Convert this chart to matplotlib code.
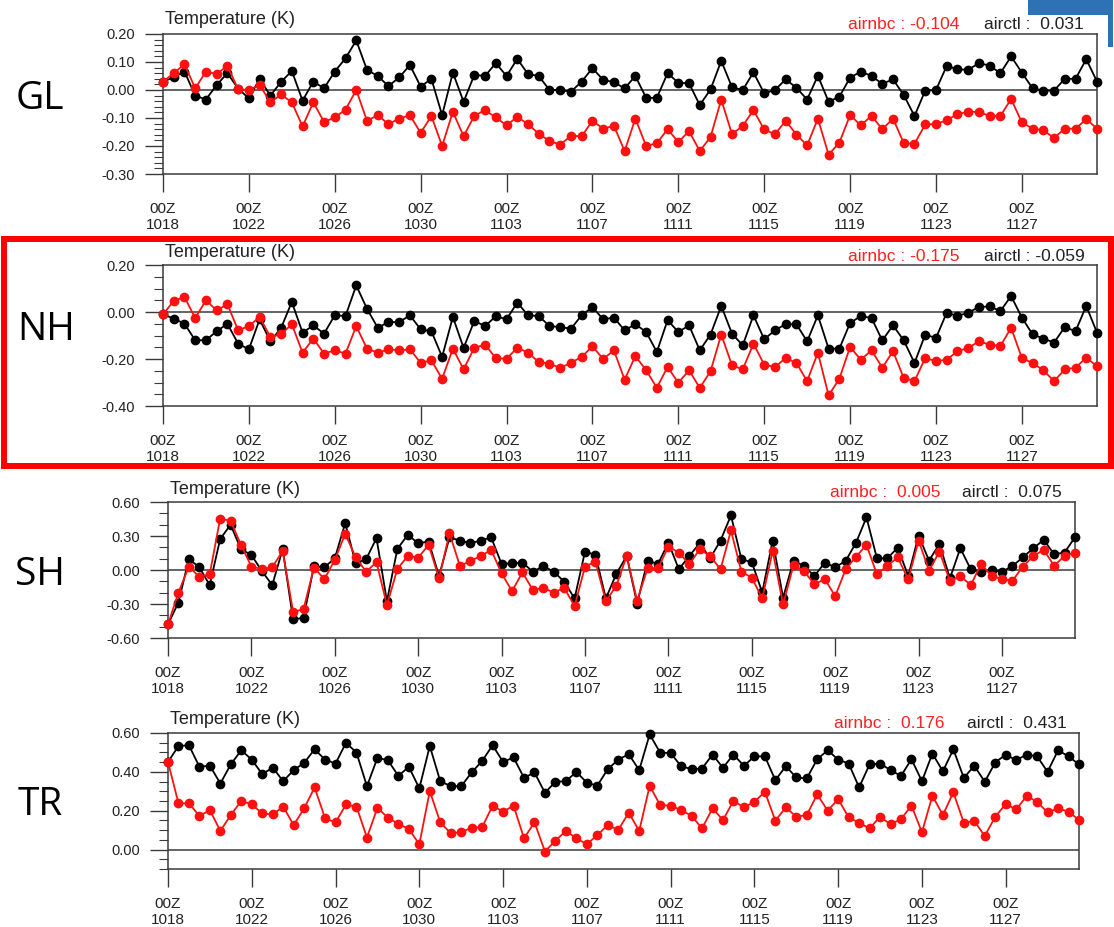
import matplotlib
matplotlib.use('Agg')
import matplotlib.pyplot as plt
from matplotlib.patches import Rectangle
from matplotlib.ticker import MultipleLocator, FormatStrFormatter

# 12-hourly samples, 00Z 10/18 .. 12Z 11/30
tick_labels = ['1018', '1022', '1026', '1030', '1103', '1107',
               '1111', '1115', '1119', '1123', '1127']

gl_ctl = [0.03, 0.045, 0.066, -0.02, -0.034, 0.018, 0.06, 0.005, -0.03, 0.04,
          -0.02, 0.029, 0.068, -0.038, 0.03, 0.006, 0.066, 0.113, 0.177, 0.072,
          0.05, 0.014, 0.045, 0.089, 0.012, 0.04, -0.09, 0.062, -0.042, 0.054,
          0.05, 0.096, 0.05, 0.111, 0.057, 0.05, 0.0, 0.0, -0.006, 0.03,
          0.078, 0.036, 0.028, 0.006, 0.05, -0.028, -0.028, 0.06, 0.026, 0.024,
          -0.054, 0.002, 0.104, 0.01, 0.0, 0.063, -0.012, 0.0, 0.038, 0.008,
          -0.034, 0.051, -0.042, -0.024, 0.044, 0.066, 0.05, 0.022, 0.038, -0.018,
          -0.093, -0.002, 0.0, 0.086, 0.074, 0.072, 0.096, 0.087, 0.06, 0.12,
          0.062, 0.006, -0.002, -0.002, 0.04, 0.04, 0.11, 0.03]
gl_nbc = [0.03, 0.06, 0.092, 0.006, 0.066, 0.057, 0.087, 0.002, 0.0, 0.018,
          -0.044, -0.016, -0.044, -0.13, -0.044, -0.114, -0.098, -0.07, 0.0, -0.11,
          -0.09, -0.122, -0.102, -0.09, -0.153, -0.093, -0.2, -0.078, -0.165, -0.092,
          -0.072, -0.098, -0.126, -0.096, -0.122, -0.156, -0.182, -0.195, -0.164, -0.165,
          -0.11, -0.138, -0.128, -0.218, -0.102, -0.2, -0.19, -0.14, -0.186, -0.147,
          -0.218, -0.168, -0.034, -0.158, -0.128, -0.072, -0.141, -0.158, -0.11, -0.159,
          -0.198, -0.102, -0.231, -0.188, -0.09, -0.126, -0.092, -0.14, -0.102, -0.19,
          -0.192, -0.123, -0.122, -0.108, -0.086, -0.078, -0.078, -0.093, -0.093, -0.032,
          -0.116, -0.138, -0.144, -0.171, -0.138, -0.138, -0.104, -0.138]

nh_ctl = [-0.01, -0.028, -0.05, -0.12, -0.12, -0.082, -0.05, -0.135, -0.159, -0.031,
          -0.125, -0.068, 0.043, -0.088, -0.057, -0.092, -0.014, -0.017, 0.113, 0.014,
          -0.067, -0.043, -0.043, -0.014, -0.074, -0.082, -0.191, -0.021, -0.153, -0.038,
          -0.06, -0.018, -0.031, 0.04, -0.014, -0.017, -0.06, -0.064, -0.071, -0.014,
          0.021, -0.031, -0.024, -0.078, -0.052, -0.085, -0.17, -0.035, -0.085, -0.057,
          -0.163, -0.096, 0.026, -0.092, -0.142, -0.014, -0.116, -0.078, -0.052, -0.052,
          -0.125, -0.014, -0.156, -0.156, -0.047, -0.017, -0.026, -0.121, -0.057, -0.121,
          -0.217, -0.096, -0.111, -0.003, -0.017, -0.003, 0.021, 0.024, 0.004, 0.068,
          -0.024, -0.095, -0.113, -0.13, -0.064, -0.082, 0.026, -0.088]
nh_nbc = [-0.01, 0.047, 0.064, -0.026, 0.05, 0.007, 0.033, -0.078, -0.06, -0.021,
          -0.106, -0.095, -0.052, -0.173, -0.113, -0.177, -0.163, -0.177, -0.06, -0.156,
          -0.173, -0.159, -0.163, -0.159, -0.216, -0.206, -0.284, -0.156, -0.244, -0.152,
          -0.139, -0.196, -0.199, -0.152, -0.173, -0.213, -0.22, -0.238, -0.216, -0.191,
          -0.146, -0.2, -0.163, -0.288, -0.187, -0.248, -0.322, -0.234, -0.301, -0.248,
          -0.323, -0.252, -0.096, -0.227, -0.244, -0.135, -0.224, -0.234, -0.196, -0.217,
          -0.294, -0.173, -0.355, -0.284, -0.149, -0.203, -0.163, -0.237, -0.167, -0.281,
          -0.294, -0.196, -0.209, -0.203, -0.167, -0.153, -0.125, -0.139, -0.145, -0.067,
          -0.196, -0.217, -0.248, -0.294, -0.244, -0.237, -0.194, -0.231]

sh_ctl = [-0.48, -0.287, 0.098, 0.024, -0.133, 0.272, 0.4, 0.183, 0.133, -0.009,
          -0.133, 0.183, -0.435, -0.423, 0.035, 0.024, 0.103, 0.414, 0.059, 0.095,
          0.281, -0.275, 0.186, 0.31, 0.236, 0.251, -0.053, 0.287, 0.26, 0.236,
          0.26, 0.287, 0.053, 0.059, 0.065, -0.015, 0.035, -0.015, -0.103, -0.251,
          0.163, 0.133, -0.251, -0.035, 0.124, -0.296, 0.083, 0.053, 0.242, 0.006,
          0.124, 0.236, 0.103, 0.26, 0.482, 0.095, 0.068, -0.198, 0.26, -0.245,
          0.083, 0.035, -0.053, 0.065, 0.024, 0.08, 0.242, 0.464, 0.103, 0.103,
          0.198, -0.053, 0.304, 0.083, 0.231, -0.074, 0.192, 0.006, -0.015, 0.0,
          -0.015, 0.035, 0.112, 0.192, 0.266, 0.139, 0.154, 0.29]
sh_nbc = [-0.48, -0.2, 0.03, -0.059, -0.038, 0.452, 0.435, 0.222, 0.03, 0.009,
          0.024, 0.168, -0.37, -0.346, 0.021, -0.08, 0.089, 0.319, 0.112, -0.015,
          0.068, -0.31, 0.009, 0.124, 0.109, 0.222, -0.074, 0.325, 0.035, 0.08,
          0.124, 0.177, -0.03, -0.186, -0.021, -0.177, -0.157, -0.2, -0.157, -0.319,
          0.03, 0.074, -0.275, -0.139, 0.124, -0.272, 0.015, 0.015, 0.207, 0.154,
          0.05, 0.183, 0.124, 0.006, 0.349, -0.015, -0.068, -0.251, 0.168, -0.304,
          0.044, -0.009, -0.127, -0.08, -0.231, 0.006, 0.118, 0.222, -0.038, 0.038,
          0.112, -0.083, 0.26, -0.006, 0.163, -0.098, -0.053, -0.133, 0.053, -0.053,
          -0.08, -0.095, 0.03, 0.124, 0.177, 0.038, 0.124, 0.154]

tr_ctl = [0.451, 0.533, 0.537, 0.426, 0.432, 0.34, 0.439, 0.511, 0.463, 0.388,
          0.422, 0.352, 0.409, 0.446, 0.516, 0.463, 0.443, 0.55, 0.499, 0.326,
          0.472, 0.46, 0.379, 0.426, 0.315, 0.533, 0.352, 0.326, 0.326, 0.397,
          0.456, 0.537, 0.451, 0.474, 0.369, 0.397, 0.292, 0.349, 0.352, 0.4,
          0.344, 0.329, 0.414, 0.463, 0.491, 0.409, 0.593, 0.499, 0.497, 0.429,
          0.414, 0.417, 0.489, 0.421, 0.489, 0.431, 0.48, 0.48, 0.357, 0.429,
          0.371, 0.366, 0.465, 0.511, 0.463, 0.443, 0.32, 0.438, 0.443, 0.409,
          0.379, 0.465, 0.352, 0.494, 0.403, 0.516, 0.369, 0.431, 0.349, 0.448,
          0.489, 0.46, 0.489, 0.48, 0.4, 0.511, 0.48, 0.438]
tr_nbc = [0.451, 0.238, 0.238, 0.173, 0.203, 0.096, 0.178, 0.251, 0.232, 0.186,
          0.181, 0.221, 0.126, 0.212, 0.32, 0.161, 0.14, 0.232, 0.221, 0.062,
          0.215, 0.164, 0.132, 0.106, 0.027, 0.301, 0.14, 0.084, 0.089, 0.113,
          0.115, 0.226, 0.195, 0.226, 0.058, 0.14, -0.01, 0.046, 0.096, 0.058,
          0.027, 0.075, 0.126, 0.101, 0.19, 0.096, 0.328, 0.229, 0.226, 0.203,
          0.174, 0.109, 0.212, 0.152, 0.251, 0.217, 0.246, 0.297, 0.149, 0.217,
          0.169, 0.178, 0.284, 0.2, 0.26, 0.166, 0.138, 0.109, 0.169, 0.13,
          0.157, 0.226, 0.089, 0.277, 0.178, 0.294, 0.138, 0.147, 0.07, 0.169,
          0.234, 0.207, 0.275, 0.246, 0.191, 0.212, 0.195, 0.152]

region_names = ['GL', 'NH', 'SH', 'TR']
nbc_means = ['-0.104', '-0.175', ' 0.005', ' 0.176']
ctl_means = [' 0.031', '-0.059', ' 0.075', ' 0.431']

W, H = 1114, 927
fig = plt.figure(figsize=(W / 100, H / 100), dpi=100)
plt.rcParams['font.family'] = ['Liberation Sans', 'DejaVu Sans']


def fx(x):
    return x / W


def fy(y):
    return 1 - y / H


# panel layout in pixels: left, top, right, bottom, ylim, major, minor,
# title baseline, stats baseline, right edge of red / black stats, side label centre
layout = [
    dict(box=(163, 34, 1097, 174), ylim=(-0.30, 0.20), major=0.10, minor=0.02,
         tb=24, sb=29, rr=959, br=1084, lab=(40, 99)),
    dict(box=(163, 265, 1097, 406), ylim=(-0.40, 0.20), major=0.20, minor=0.05,
         tb=257, sb=261, rr=959, br=1085, lab=(46, 330)),
    dict(box=(168, 502, 1075, 638), ylim=(-0.60, 0.60), major=0.30, minor=0.10,
         tb=494, sb=497, rr=940, br=1062, lab=(40, 575)),
    dict(box=(168, 733, 1079, 869), ylim=(-0.10, 0.60), major=0.20, minor=0.05,
         tb=724, sb=728, rr=944, br=1067, lab=(40, 805)),
]
series = [(gl_ctl, gl_nbc), (nh_ctl, nh_nbc), (sh_ctl, sh_nbc), (tr_ctl, tr_nbc)]

frame_col = '#3a3a3a'
for i, lay in enumerate(layout):
    l, t, r, b = lay['box']
    ax = fig.add_axes([fx(l), fy(b), (r - l) / W, (b - t) / H])
    ctl, nbc = series[i]
    xs = list(range(len(ctl)))

    ax.axhline(0, color=frame_col, lw=1.1, zorder=1)
    ax.plot(xs, ctl, color='black', lw=1.3, marker='o', ms=6, clip_on=False, zorder=3)
    ax.plot(xs, nbc, color='#ff1010', lw=1.3, marker='o', ms=6, clip_on=False, zorder=4)

    ax.set_xlim(0, len(ctl) - 1)
    ax.set_ylim(*lay['ylim'])
    ax.set_xticks(range(0, 8 * len(tick_labels), 8))
    ax.set_xticklabels(['00Z\n' + s for s in tick_labels], linespacing=1.2)
    ax.yaxis.set_major_locator(MultipleLocator(lay['major']))
    ax.yaxis.set_minor_locator(MultipleLocator(lay['minor']))
    ax.yaxis.set_major_formatter(FormatStrFormatter('%.2f'))
    if lay['ylim'][0] == -0.10:
        ax.set_yticks([0.0, 0.2, 0.4, 0.6])

    for sp in ax.spines.values():
        sp.set_color(frame_col)
        sp.set_linewidth(1.1)
    ax.tick_params(axis='both', which='major', direction='out', length=13, width=1.0,
                   color=frame_col, labelsize=10.5, labelcolor='#222222', pad=7)
    ax.tick_params(axis='x', which='major', labelsize=11, pad=7)
    ax.tick_params(axis='y', which='minor', direction='out', length=6.5, width=0.8,
                   color=frame_col)
    ax.tick_params(axis='x', which='minor', bottom=False)
    ax.tick_params(top=False, right=False)

    # text above the panel
    fig.text(fx(l + 2), fy(lay['tb']), 'Temperature (K)', fontsize=13, color='#222222',
             ha='left', va='baseline')
    fig.text(fx(lay['rr']), fy(lay['sb']), 'airnbc : ' + nbc_means[i], fontsize=12.5,
             color='#ff2020', ha='right', va='baseline')
    fig.text(fx(lay['br']), fy(lay['sb']), 'airctl : ' + ctl_means[i], fontsize=12.5,
             color='#222222', ha='right', va='baseline')
    fig.text(fx(lay['lab'][0]), fy(lay['lab'][1]), region_names[i], fontsize=28,
             family=['Open Sans', 'DejaVu Sans'], ha='center', va='center', color='black')

# slide decorations: red box around NH, blue corner box
fig.patches.append(Rectangle((fx(4), fy(465.5)), (1111 - 4) / W, (465.5 - 239) / H,
                             transform=fig.transFigure, fill=False, edgecolor='#ff0000',
                             lw=4.3, zorder=10))
fig.patches.append(Rectangle((fx(1028), fy(15)), (1113 - 1028) / W, 15 / H,
                             transform=fig.transFigure, facecolor='#2e72b6',
                             edgecolor='none', zorder=10))
fig.patches.append(Rectangle((fx(1108), fy(47)), 5 / W, 47 / H,
                             transform=fig.transFigure, facecolor='#2e72b6',
                             edgecolor='none', zorder=10))

fig.savefig('out.png', dpi=100)
